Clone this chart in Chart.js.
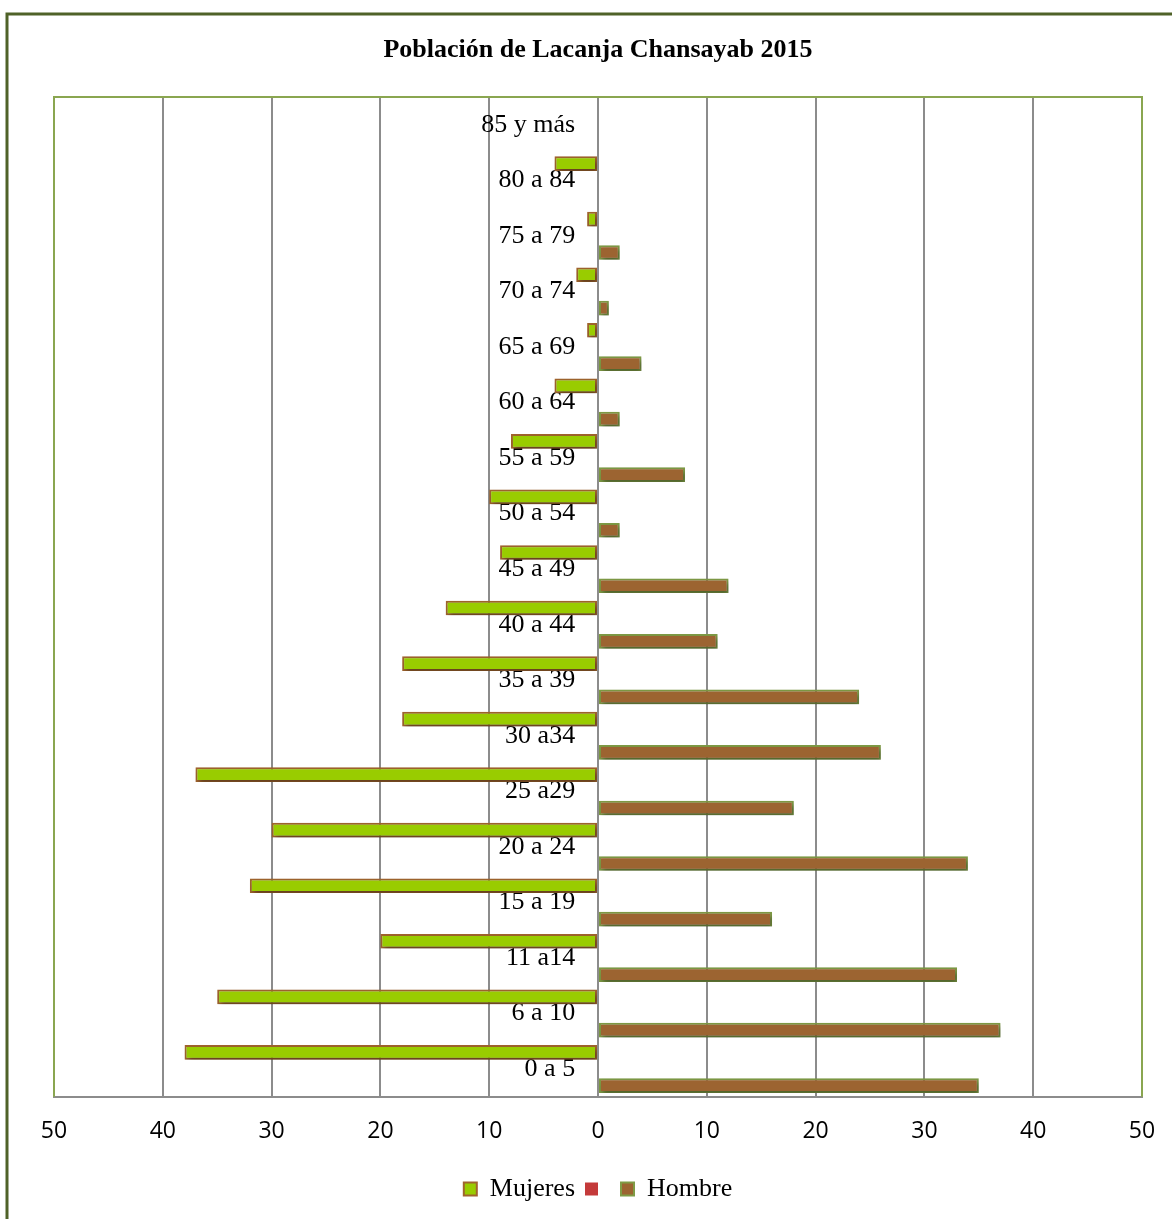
<!DOCTYPE html>
<html>
<head>
<meta charset="utf-8">
<script src="https://cdn.jsdelivr.net/npm/chart.js@4"></script>
<style>
  html, body { margin: 0; padding: 0; background: #fff; overflow: hidden; }
  #wrap { width: 1172px; height: 1219px; }
</style>
</head>
<body>
<div id="wrap"><canvas id="piramide"></canvas></div>
<script>
// grupos de edad, de arriba hacia abajo
const categorias = ["85 y más", "80 a 84", "75 a 79", "70 a 74", "65 a 69", "60 a 64",
  "55 a 59", "50 a 54", "45 a 49", "40 a 44", "35 a 39", "30 a34", "25 a29",
  "20 a 24", "15 a 19", "11 a14", "6 a 10", "0 a 5"];

const mujeres = [null, 4, 1, 2, 1, 4, 8, 10, 9, 14, 18, 18, 37, 30, 32, 20, 35, 38];
const hombres = [null, null, 2, 1, 4, 2, 8, 2, 12, 11, 24, 26, 18, 34, 16, 33, 37, 35];

const ticksX = [-50, -40, -30, -20, -10, 0, 10, 20, 30, 40, 50];

// marco exterior, borde del área de trazado y sombra de las barras
const marcos = {
    id: "marcos",
    beforeDatasetsDraw(chart) {
        const ctx = chart.ctx;
        ctx.save();
        ctx.shadowColor = "rgba(0,0,0,0.4)";
        ctx.shadowBlur = 5;
        ctx.shadowOffsetX = 2;
        ctx.shadowOffsetY = 3;
    },
    afterDatasetsDraw(chart) {
        chart.ctx.restore();
    },
    afterDraw(chart) {
        const { ctx, chartArea } = chart;
        ctx.save();
        ctx.strokeStyle = "#8AA650";
        ctx.lineWidth = 2;
        ctx.beginPath();
        ctx.moveTo(chartArea.left, chartArea.bottom);
        ctx.lineTo(chartArea.left, chartArea.top);
        ctx.lineTo(chartArea.right, chartArea.top);
        ctx.lineTo(chartArea.right, chartArea.bottom);
        ctx.stroke();

        ctx.strokeStyle = "#4F6228";
        ctx.lineWidth = 3;
        ctx.beginPath();
        ctx.moveTo(7, chart.height + 5);
        ctx.lineTo(7, 14);
        ctx.lineTo(chart.width + 5, 14);
        ctx.stroke();
        ctx.restore();
    }
};

new Chart(document.getElementById("piramide"), {
    type: "bar",
    plugins: [marcos],
    data: {
        labels: categorias,
        datasets: [
            {
                label: "Mujeres",
                data: mujeres.map(v => v === null ? null : -v),
                backgroundColor: "#99CC00",
                borderColor: "#A0642D",
                borderWidth: 2,
                borderSkipped: false
            },
            {
                label: "",
                data: [],
                backgroundColor: "#C43A3A",
                borderWidth: 0
            },
            {
                label: "Hombre",
                data: hombres,
                backgroundColor: "#9C6431",
                borderColor: "#7F9B45",
                borderWidth: 2,
                borderSkipped: false
            }
        ]
    },
    options: {
        indexAxis: "y",
        responsive: true,
        maintainAspectRatio: false,
        animation: false,
        categoryPercentage: 0.9,
        barPercentage: 0.88,
        layout: { padding: { top: 34.4, left: 54, right: 30, bottom: 7 } },
        scales: {
            x: {
                min: -50,
                max: 50,
                afterBuildTicks(scale) {
                    scale.ticks = ticksX.map(v => ({ value: v }));
                },
                afterFit(scale) {
                    scale.paddingLeft = 0;
                    scale.paddingRight = 0;
                },
                grid: {
                    color: c => (c.tick && Math.abs(c.tick.value) === 50) ? "rgba(0,0,0,0)" : "#8C8C8C",
                    lineWidth: 2,
                    drawTicks: false
                },
                border: { display: true, color: "#8C8C8C", width: 2 },
                ticks: {
                    padding: 20.8,
                    color: "#000",
                    font: { family: "'Open Sans', 'Noto Sans', sans-serif", size: 23 },
                    callback: v => Math.abs(v)
                }
            },
            y: {
                // etiquetas junto al eje cero, un poco a la izquierda
                position: { x: -2.1 },
                afterFit(scale) {
                    scale.paddingLeft = 0;
                    scale.paddingRight = 0;
                },
                grid: { display: false },
                border: { display: false },
                ticks: {
                    autoSkip: false,
                    color: "#000",
                    font: { family: "'Liberation Serif', 'Times New Roman', serif", size: 26 }
                }
            }
        },
        plugins: {
            title: {
                display: true,
                text: "Población de Lacanja Chansayab 2015",
                color: "#000",
                font: { family: "'Liberation Serif', 'Times New Roman', serif", size: 26, weight: "bold" },
                padding: { top: 0, bottom: 31.4 }
            },
            legend: {
                position: "bottom",
                labels: {
                    boxWidth: 13,
                    boxHeight: 13,
                    padding: 10,
                    color: "#000",
                    font: { family: "'Liberation Serif', 'Times New Roman', serif", size: 26 }
                }
            },
            tooltip: { enabled: false }
        }
    }
});
</script>
</body>
</html>
